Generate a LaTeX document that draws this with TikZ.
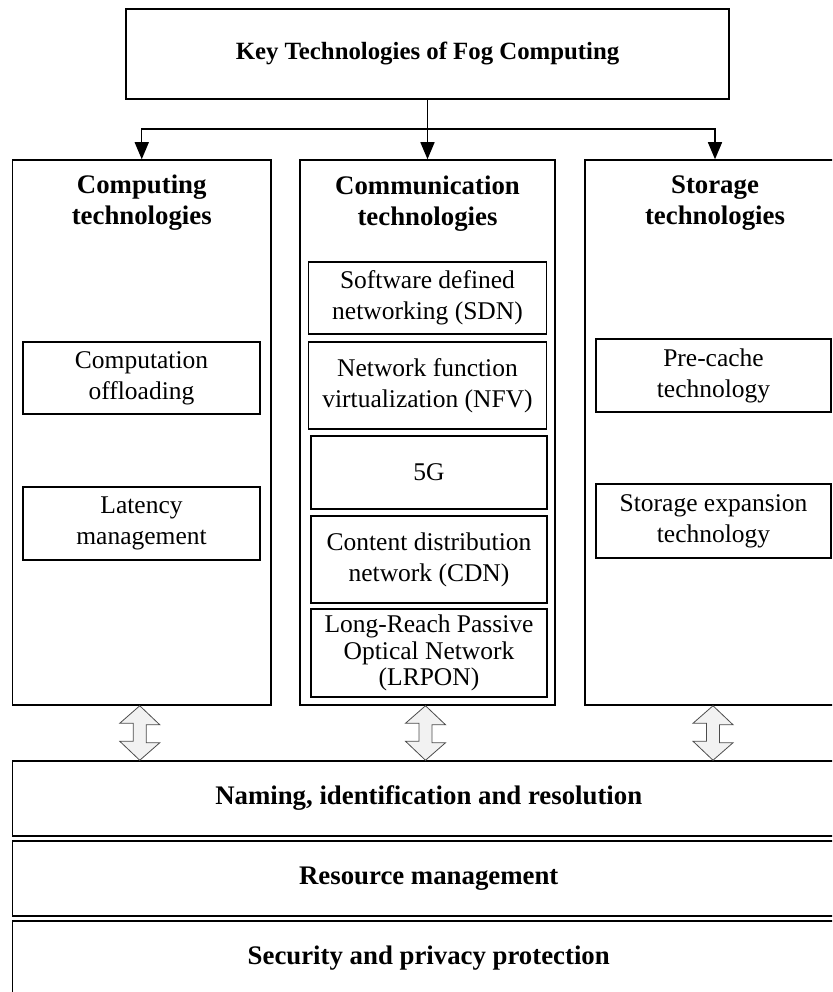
\documentclass[tikz,border=0pt]{standalone}
\usepackage{fontspec}
\setmainfont{Liberation Serif}
\usetikzlibrary{arrows.meta}

\tikzset{
  frame/.style={draw, line width=1.5pt, inner sep=0pt, align=center},
  headtext/.style={font=\fontsize{26.8pt}{31pt}\selectfont\bfseries, align=center},
  itemtext/.style={frame, font=\fontsize{25.5pt}{31pt}\selectfont},
  link/.style={line width=1.4pt, -{Triangle[length=17pt, width=14pt]}},
  dbl/.style={draw=black!70, line width=0.8pt, fill=black!5, line join=miter},
}

\begin{document}
\begin{tikzpicture}[x=1pt, y=-1pt]
      \useasboundingbox (0,0) rectangle (832,992);
      \clip (0,0) rectangle (832,992);
      %
      \node[frame, headtext, font=\fontsize{24.8pt}{31pt}\selectfont\bfseries,
            minimum width=603pt, minimum height=90pt] (key) at (427.5,54)
        {Key Technologies of Fog Computing};
      %
      \node[frame, minimum width=258.5pt, minimum height=545pt] (comp) at (141.75,432.5) {}; % columns
      \node[frame, minimum width=255pt, minimum height=545pt] (comm) at (427.5,432.5) {};
      \node[frame, minimum width=260pt, minimum height=545pt] (stor) at (715,432.5) {};
      %
      \node[headtext] (comptitle) at (141.75,202.5) {Computing\\technologies};
      \node[headtext] (commtitle) at (427.5,203.5) {Communication\\technologies};
      \node[headtext] (stortitle) at (715,203.5) {Storage\\technologies};
      %
      \coordinate (split) at (427.5,129);  % top arrows
      \draw[line width=1.4pt] (key.south) -- (split);
      \draw[link] (split) -| (comp.north);
      \draw[link] (split) -- (comm.north);
      \draw[link] (split) -| (stor.north);
      %
      \node[itemtext, minimum width=237pt, minimum height=72pt] (offload) at (141.5,378)
        {Computation\\offloading};                        % computing
      \node[itemtext, minimum width=237pt, minimum height=73pt] (latency) at (141.5,523.5)
        {Latency\\management};
      %%
      \node[itemtext, minimum width=238pt, minimum height=72pt] (sdn) at (427.5,298)
        {Software defined\\networking (SDN)};             % communication
      \node[itemtext, minimum width=238pt, minimum height=87pt] (nfv) at (427.5,385.5)
        {Network function\\virtualization (NFV)};
      \node[itemtext, minimum width=236pt, minimum height=73pt] (fiveg) at (429,472.5)
        {5G};
      \node[itemtext, minimum width=236pt, minimum height=87pt] (cdn) at (429,559.5)
        {Content distribution\\network (CDN)};
      \node[itemtext, minimum width=236pt, minimum height=88pt,
            font=\fontsize{25.5pt}{26.5pt}\selectfont] (lrpon) at (429,653)
        {Long-Reach Passive\\Optical Network\\(LRPON)};
      %%
      \node[itemtext, minimum width=235pt, minimum height=73pt] (precache) at (713.5,375.5)
        {Pre-cache\\technology};                          % storage
      \node[itemtext, minimum width=235pt, minimum height=74pt] (expand) at (713.5,521)
        {Storage expansion\\technology};
      %
      \node[frame, headtext, minimum width=832.5pt, minimum height=75pt] (naming) at (428.75,798.5)
        {Naming, identification and resolution};          % bottom layers
      \node[frame, headtext, minimum width=832.5pt, minimum height=75pt] (resource) at (428.75,878.5)
        {Resource management};
      \node[frame, headtext, minimum width=832.5pt, minimum height=75pt] (security) at (428.75,958.5)
        {Security and privacy protection};
      %
      \foreach \c in {comp,comm,stor}                     % double arrows
        \draw[dbl] ([xshift=-2pt]\c.south) -- ++(20,19) -- ++(-13.5,0) -- ++(0,18) -- ++(13.5,0)
          -- ([xshift=-2pt]\c.south |- naming.north) -- ++(-20,-19) -- ++(13.5,0) -- ++(0,-18)
          -- ++(-13.5,0) -- cycle;
      %
    \end{tikzpicture}
\end{document}
